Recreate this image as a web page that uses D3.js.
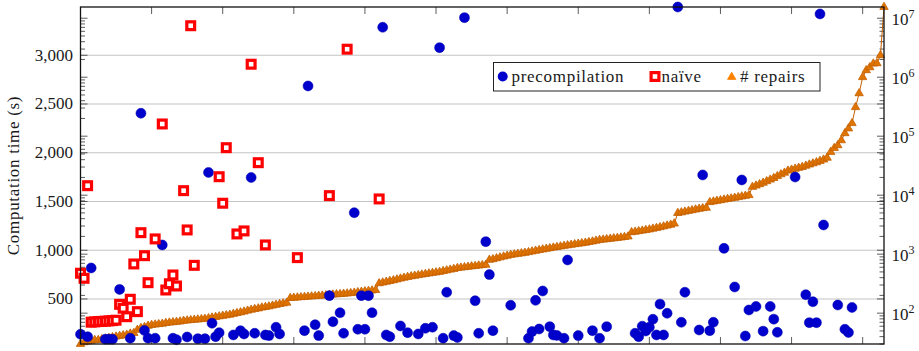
<!DOCTYPE html>
<html>
<head>
<meta charset="utf-8">
<script src="https://cdn.jsdelivr.net/npm/d3@7"></script>
<style>
  body { margin: 0; background: #fff; }
  text { font-family: "Liberation Serif", serif; fill: #1a1a1a; }
  .words { letter-spacing: 0.7px; }
</style>
</head>
<body>
<svg id="chart" width="919" height="351"></svg>
<script>
// instances sorted by number of repairs (right, log axis)
const repairs = [
  30, 32, 33, 34, 35, 35, 36, 37, 38, 39,
  40, 41, 42, 43, 45, 46, 52, 56, 58, 61,
  63, 64, 65, 66, 68, 69, 70, 71, 72, 74,
  75, 76, 77, 78, 79, 80, 82, 84, 86, 88,
  90, 92, 94, 97, 100, 103, 106, 110, 114, 117,
  120, 124, 127, 130, 134, 138, 142, 146, 150, 180,
  182, 184, 186, 188, 190, 192, 194, 196, 198, 200,
  204, 206, 208, 210, 212, 215, 218, 222, 226, 230,
  234, 238, 242, 246, 320, 330, 340, 350, 360, 372,
  385, 398, 410, 420, 430, 440, 450, 460, 470, 480,
  490, 500, 515, 530, 545, 560, 580, 590, 600, 610,
  620, 630, 640, 650, 660, 800, 820, 850, 880, 910,
  940, 970, 990, 1010, 1030, 1050, 1080, 1110, 1140, 1170,
  1200, 1230, 1260, 1290, 1320, 1350, 1380, 1410, 1440, 1470,
  1500, 1530, 1560, 1600, 1640, 1690, 1740, 1760, 1790, 1820,
  1850, 1880, 1910, 1950, 1990, 2350, 2400, 2450, 2500, 2560,
  2620, 2700, 2780, 2860, 2950, 3050, 3150, 3300, 4980, 5100,
  5250, 5400, 5550, 5700, 5850, 6000, 6100, 7600, 7800, 8000,
  8200, 8400, 8600, 8800, 9000, 9250, 9500, 9750, 10000, 13800,
  14500, 15300, 16200, 17200, 18300, 19500, 21000, 22500, 24000, 26000,
  27000, 28000, 29000, 30000, 31500, 33000, 34500, 36000, 38000, 40000,
  43000, 54000, 63000, 70000, 85000, 112000, 135000, 166000, 310000, 533000,
  1000000, 1310000, 1470000, 1700000, 1720000, 2350000, 15500000
];

// computation time in seconds (left axis), null = no mark visible
const precompilation = [
  138, null, 113, 818, null, null, null, 87, 87, 87,
  null, 598, null, null, 97, null, null, 2405, 177, 97,
  null, 97, null, 1054, null, null, 97, 82, null, null,
  110, null, null, 93, null, 93, 1798, 251, 113, 154,
  null, null, null, 131, null, 174, 141, null, 1746, 148,
  null, null, 131, 124, null, 210, 141, null, null, null,
  null, null, null, 175, 2685, null, 236, 124, null, null,
  534, 267, null, 359, 148, null, null, 1385, 189, 534,
  189, 534, 359, null, null, 3287, 131, 113, null, null,
  223, null, 154, null, null, 141, null, 199, null, 210,
  null, 3078, 97, 569, null, 124, 105, null, 3386, null,
  null, 482, 148, null, 1088, 750, 175, null, null, null,
  null, 435, null, null, null, null, 97, 165, 486, 192,
  582, null, 216, 131, 126, null, 97, 900, null, null,
  124, null, null, null, 175, null, 97, null, 216, null,
  null, null, null, null, null, null, 148, 113, 221, 172,
  210, 292, 131, 447, 131, 353, null, null, 3495, 261,
  569, null, null, null, 182, 1772, null, 175, 261, null,
  null, 1019, null, null, 623, null, 1721, 120, 387, null,
  423, null, 170, null, 423, 293, 158, null, null, null,
  null, 1751, null, null, 544, 257, 472, 257, 3424, 1259,
  null, null, null, 438, null, 189, 156, 413, null, null,
  null, null, null, null, null, null, null
];

const naive = [
  764, 712, 1662, 262, 265, 268, 270, 272, 275, 278,
  282, 445, 405, 318, 497, 859, 370, 1180, 944, 667,
  null, 1116, null, 2295, 592, 656, 746, 633, null, 1611,
  1208, 3303, 845, null, null, null, null, null, null, 1754,
  1482, 2052, null, null, 1167, null, 1198, null, 2908, null,
  1898, null, 1054, null, null, null, null, null, null, null,
  null, 924, null, null, null, null, null, null, null, null,
  1560, null, null, null, null, 3062, null, null, null, null,
  null, null, null, null, 1526
];

const timeTicks = [500, 1000, 1500, 2000, 2500, 3000];
const repairTicks = [2, 3, 4, 5, 6, 7];   // powers of ten
const instanceTicks = [0, 20, 40, 60, 80, 100, 120, 140, 160, 180, 200, 220];

const plotLeft = 80.5, plotRight = 884, plotTop = 7, plotBottom = 344;
const blue = "#0000cc", red = "#ff0000", orange = "#e07400", orangeDark = "#c46000";

const svg = d3.select("#chart");

const x = d3.scaleLinear()
    .domain([0, repairs.length - 1])
    .range([plotLeft, plotRight]);

const yTime = d3.scaleLinear()
    .domain([38, d3.max(precompilation)])
    .range([plotBottom, plotTop]);

const yRep = d3.scaleLog()
    .domain(d3.extent(repairs))
    .range([plotBottom, plotTop]);

// grid
svg.append("g").selectAll("line")
    .data(timeTicks)
    .join("line")
    .attr("x1", plotLeft).attr("x2", plotRight)
    .attr("y1", d => yTime(d)).attr("y2", d => yTime(d))
    .attr("stroke", "#c4c4c4")
    .attr("stroke-width", 1.1);

// ticks (all pointing inwards, on both sides)
const ticks = svg.append("g").attr("stroke", "#333").attr("stroke-width", 0.8);

instanceTicks.forEach(t => {
    ticks.append("line").attr("x1", x(t)).attr("x2", x(t)).attr("y1", plotTop).attr("y2", plotTop + 7);
    ticks.append("line").attr("x1", x(t)).attr("x2", x(t)).attr("y1", plotBottom).attr("y2", plotBottom - 7);
});

timeTicks.forEach(t => {
    ticks.append("line").attr("x1", plotLeft).attr("x2", plotLeft + 7).attr("y1", yTime(t)).attr("y2", yTime(t));
    ticks.append("line").attr("x1", plotRight).attr("x2", plotRight - 7).attr("y1", yTime(t)).attr("y2", yTime(t));
});

yRep.ticks().forEach(t => {
    const major = Math.abs(Math.log10(t) - Math.round(Math.log10(t))) < 1e-9;
    const len = major ? 7 : 4.5;
    ticks.append("line").attr("x1", plotLeft).attr("x2", plotLeft + len).attr("y1", yRep(t)).attr("y2", yRep(t));
    ticks.append("line").attr("x1", plotRight).attr("x2", plotRight - len).attr("y1", yRep(t)).attr("y2", yRep(t));
});

// repairs: line + triangles
const line = d3.line()
    .x((d, i) => x(i))
    .y(d => yRep(d));

svg.append("path")
    .datum(repairs)
    .attr("fill", "none")
    .attr("stroke", orangeDark)
    .attr("stroke-width", 1)
    .attr("d", line);

const tri = "M0,-4.8L4.2,2.4L-4.2,2.4Z";

svg.append("g").selectAll("path")
    .data(repairs)
    .join("path")
    .attr("d", tri)
    .attr("transform", (d, i) => `translate(${x(i)},${yRep(d)})`)
    .attr("fill", orange)
    .attr("stroke", orangeDark)
    .attr("stroke-width", 0.8);

// precompilation circles
svg.append("g").selectAll("circle")
    .data(precompilation.map((v, i) => ({ i, v })).filter(d => d.v !== null))
    .join("circle")
    .attr("cx", d => x(d.i))
    .attr("cy", d => yTime(d.v))
    .attr("r", 5)
    .attr("fill", blue)
    .attr("stroke", "#0000b0")
    .attr("stroke-width", 0.5);

// naive squares
svg.append("g").selectAll("rect")
    .data(naive.map((v, i) => ({ i, v })).filter(d => d.v !== null))
    .join("rect")
    .attr("x", d => x(d.i) - 3.9)
    .attr("y", d => yTime(d.v) - 3.9)
    .attr("width", 7.8)
    .attr("height", 7.8)
    .attr("fill", "#fff")
    .attr("stroke", red)
    .attr("stroke-width", 3.2);

// frame
svg.append("rect")
    .attr("x", plotLeft).attr("y", plotTop)
    .attr("width", plotRight - plotLeft).attr("height", plotBottom - plotTop)
    .attr("fill", "none")
    .attr("stroke", "#111")
    .attr("stroke-width", 1.3);

// left labels
svg.append("g").selectAll("text")
    .data(timeTicks)
    .join("text")
    .attr("x", 73)
    .attr("y", d => yTime(d) + 5.5)
    .attr("text-anchor", "end")
    .attr("font-size", "17px")
    .text(d3.format(","));

// right labels 10^k
repairTicks.forEach(k => {
    const t = svg.append("text")
        .attr("x", 891.5)
        .attr("y", yRep(Math.pow(10, k)) + 7)
        .attr("font-size", "17px")
        .text("10");
    t.append("tspan")
        .attr("dy", -7.5)
        .attr("font-size", "12px")
        .text(k);
});

// axis title
svg.append("text")
    .attr("class", "words")
    .attr("transform", `translate(18.5, ${(plotTop + plotBottom) / 2}) rotate(-90)`)
    .attr("text-anchor", "middle")
    .attr("font-size", "17px")
    .text("Computation time (s)");

// legend
const legend = svg.append("g").attr("class", "words");
legend.append("rect")
    .attr("x", 493.5).attr("y", 62.5)
    .attr("width", 326.5).attr("height", 28.5)
    .attr("fill", "#fff")
    .attr("stroke", "#222")
    .attr("stroke-width", 1);

legend.append("circle")
    .attr("cx", 502.7).attr("cy", 76.5).attr("r", 5)
    .attr("fill", blue);
legend.append("text").attr("x", 511.5).attr("y", 81.5).attr("font-size", "17px").text("precompilation");

legend.append("rect")
    .attr("x", 655 - 3.9).attr("y", 76.5 - 3.9)
    .attr("width", 7.8).attr("height", 7.8)
    .attr("fill", "#fff").attr("stroke", red).attr("stroke-width", 3.2);
legend.append("text").attr("x", 661.5).attr("y", 81.5).attr("font-size", "17px").text("naïve");

legend.append("path")
    .attr("d", tri)
    .attr("transform", "translate(731.7,77)")
    .attr("fill", "#ff8000").attr("stroke", "#ff8000").attr("stroke-width", 0.8);
legend.append("text").attr("x", 740).attr("y", 81.5).attr("font-size", "17px").text("# repairs");
</script>
</body>
</html>
